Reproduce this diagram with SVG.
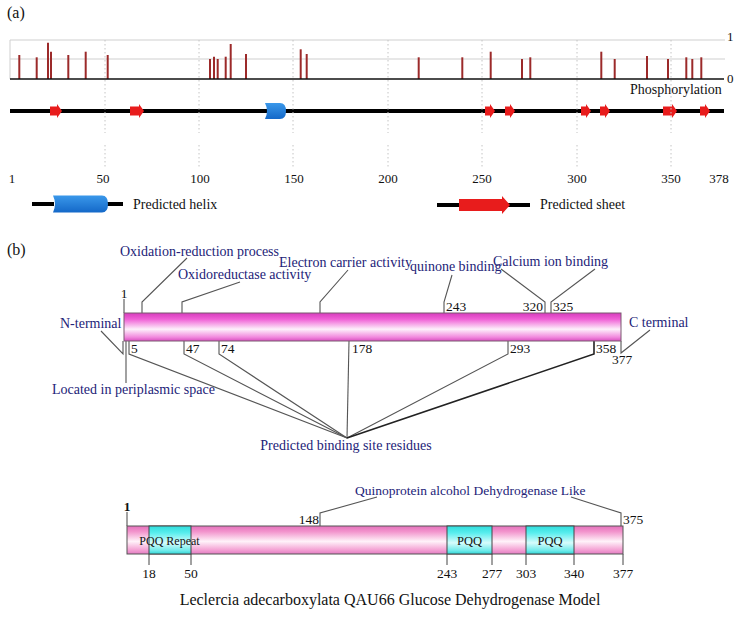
<svg xmlns="http://www.w3.org/2000/svg" width="738" height="623" viewBox="0 0 738 623">
<defs>
<linearGradient id="pink1" x1="0" y1="0" x2="0" y2="1">
<stop offset="0" stop-color="#d63cbc"/>
<stop offset="0.22" stop-color="#f060d6"/>
<stop offset="0.58" stop-color="#fdf0fb"/>
<stop offset="0.86" stop-color="#f28ade"/>
<stop offset="1" stop-color="#d850c0"/>
</linearGradient>
<linearGradient id="pink2" x1="0" y1="0" x2="0" y2="1">
<stop offset="0" stop-color="#e470bc"/>
<stop offset="0.2" stop-color="#f294cc"/>
<stop offset="0.55" stop-color="#fff2f9"/>
<stop offset="0.85" stop-color="#f4a2d4"/>
<stop offset="1" stop-color="#e27cc2"/>
</linearGradient>
<linearGradient id="cyan" x1="0" y1="0" x2="0" y2="1">
<stop offset="0" stop-color="#2edcdc"/>
<stop offset="0.25" stop-color="#5aeeee"/>
<stop offset="0.6" stop-color="#d6fcfc"/>
<stop offset="0.88" stop-color="#6eeaea"/>
<stop offset="1" stop-color="#30d4d4"/>
</linearGradient>
<linearGradient id="blue" x1="0" y1="0" x2="0" y2="1">
<stop offset="0" stop-color="#3a98ea"/>
<stop offset="1" stop-color="#1468c8"/>
</linearGradient>
</defs>
<style>
.t{font-family:"Liberation Serif","Times New Roman",serif;font-size:14px;fill:#232378}
.k{font-family:"Liberation Serif","Times New Roman",serif;font-size:14px;fill:#111}
.n{font-family:"Liberation Serif","Times New Roman",serif;font-size:13.5px;fill:#111}
.ax{font-family:"Liberation Serif","Times New Roman",serif;font-size:13px;fill:#111}
.pl{font-family:"Liberation Serif","Times New Roman",serif;font-size:16px;fill:#111}
.sm{font-family:"Liberation Serif","Times New Roman",serif;fill:#111}
.lead{stroke:#555;stroke-width:1.1;fill:none}
.tick{stroke:#444;stroke-width:1;fill:none}
.grid{stroke:#cfcfcf;stroke-width:1}
.dash{stroke:#c4c4c4;stroke-width:1;stroke-dasharray:1.5 2.5}
.ph{stroke:#9c2a2a;stroke-width:2}
.strand{fill:#e81c1c}
.helix{fill:url(#blue)}
.track{stroke:#000;stroke-width:4}
</style>

<text class="pl" x="7" y="18">(a)</text>

<g id="phospho-chart">
<line class="grid" x1="10" y1="40" x2="725" y2="40"/>
<line class="grid" x1="10" y1="59" x2="725" y2="59"/>
<line class="grid" x1="10" y1="40" x2="10" y2="79"/>
<g class="ph">
<line x1="19.3" y1="79" x2="19.3" y2="55"/>
<line x1="36.7" y1="79" x2="36.7" y2="57.3"/>
<line x1="48" y1="79" x2="48" y2="42.7"/>
<line x1="51" y1="79" x2="51" y2="51.7"/>
<line x1="68.3" y1="79" x2="68.3" y2="55"/>
<line x1="85.7" y1="79" x2="85.7" y2="51.7"/>
<line x1="107.7" y1="79" x2="107.7" y2="55"/>
<line x1="210" y1="79" x2="210" y2="59"/>
<line x1="214" y1="79" x2="214" y2="56.7"/>
<line x1="217.7" y1="79" x2="217.7" y2="59"/>
<line x1="225.7" y1="79" x2="225.7" y2="56.7"/>
<line x1="230.7" y1="79" x2="230.7" y2="44"/>
<line x1="246" y1="79" x2="246" y2="54"/>
<line x1="300.7" y1="79" x2="300.7" y2="49.3"/>
<line x1="306.7" y1="79" x2="306.7" y2="54"/>
<line x1="418.7" y1="79" x2="418.7" y2="57.3"/>
<line x1="462.3" y1="79" x2="462.3" y2="57.3"/>
<line x1="490.7" y1="79" x2="490.7" y2="51.7"/>
<line x1="522" y1="79" x2="522" y2="59"/>
<line x1="530.3" y1="79" x2="530.3" y2="57.3"/>
<line x1="601.3" y1="79" x2="601.3" y2="51.7"/>
<line x1="614.7" y1="79" x2="614.7" y2="59"/>
<line x1="647" y1="79" x2="647" y2="56"/>
<line x1="668" y1="79" x2="668" y2="59"/>
<line x1="686.3" y1="79" x2="686.3" y2="57.3"/>
<line x1="692.3" y1="79" x2="692.3" y2="59"/>
<line x1="701.3" y1="79" x2="701.3" y2="57.3"/>
</g>
<line x1="10" y1="79" x2="724" y2="79" stroke="#111" stroke-width="1.6"/>
<text class="ax" x="727" y="41">1</text>
<text class="ax" x="727" y="83">0</text>
<text class="k" x="630" y="94">Phosphorylation</text>
</g>

<g id="structure-track">
<line class="track" x1="10" y1="111" x2="724" y2="111"/>
<g class="strand">
<path d="M50,106.5 H57 V104 L62,111 L57,118 V115.5 H50 Z"/>
<path d="M130,106.5 H139 V104 L144,111 L139,118 V115.5 H130 Z"/>
<path d="M485,106.5 H490 V104 L495,111 L490,118 V115.5 H485 Z"/>
<path d="M505,106.5 H510 V104 L515,111 L510,118 V115.5 H505 Z"/>
<path d="M581,106.5 H586 V104 L591,111 L586,118 V115.5 H581 Z"/>
<path d="M600,106.5 H605 V104 L610,111 L605,118 V115.5 H600 Z"/>
<path d="M663,106.5 H672 V104 L677,111 L672,118 V115.5 H663 Z"/>
<path d="M700,106.5 H705 V104 L710,111 L705,118 V115.5 H700 Z"/>
</g>
<path class="helix" d="M265,103 H280 Q286,103 286,111 Q286,119 280,119 H265 Q269,111 265,103 Z"/>
</g>

<g id="grid-lines">
<g class="dash">
<line x1="105" y1="40" x2="105" y2="133"/><line x1="105" y1="145" x2="105" y2="168"/>
<line x1="199" y1="40" x2="199" y2="133"/><line x1="199" y1="145" x2="199" y2="168"/>
<line x1="293" y1="40" x2="293" y2="133"/><line x1="293" y1="145" x2="293" y2="168"/>
<line x1="388" y1="40" x2="388" y2="133"/><line x1="388" y1="145" x2="388" y2="168"/>
<line x1="482" y1="40" x2="482" y2="133"/><line x1="482" y1="145" x2="482" y2="168"/>
<line x1="577" y1="40" x2="577" y2="133"/><line x1="577" y1="145" x2="577" y2="168"/>
<line x1="671" y1="40" x2="671" y2="133"/><line x1="671" y1="145" x2="671" y2="168"/>
</g>
</g>

<g id="axis-labels" text-anchor="middle">
<text class="ax" x="12" y="183">1</text>
<text class="ax" x="103" y="183">50</text>
<text class="ax" x="200" y="183">100</text>
<text class="ax" x="294" y="183">150</text>
<text class="ax" x="388" y="183">200</text>
<text class="ax" x="482" y="183">250</text>
<text class="ax" x="577" y="183">300</text>
<text class="ax" x="671" y="183">350</text>
<text class="ax" x="719" y="183">378</text>
</g>

<g id="legend-helix">
<line class="track" x1="32" y1="204" x2="54" y2="204" stroke-width="3.5"/>
<line class="track" x1="106" y1="204" x2="123" y2="204" stroke-width="3.5"/>
<path class="helix" d="M53,195.5 H102 Q108,195.5 108,204 Q108,212.5 102,212.5 H53 Q57,204 53,195.5 Z"/>
<text class="k" x="133" y="209">Predicted helix</text>
</g>
<g id="legend-sheet">
<line class="track" x1="437" y1="205" x2="460" y2="205" stroke-width="3.5"/>
<line class="track" x1="508" y1="205" x2="530" y2="205" stroke-width="3.5"/>
<path class="strand" d="M459,199 H502 V196 L510,205 L502,214 V211 H459 Z"/>
<text class="k" x="540" y="209">Predicted sheet</text>
</g>

<text class="pl" x="7" y="255">(b)</text>

<g id="connectors">
<path class="lead" d="M142,313 V302 L187,258"/>
<path class="lead" d="M182,313 V302 L240,282"/>
<path class="lead" d="M320,313 V302 L348,270"/>
<path class="lead" d="M444,313 V302 L452,275"/>
<path class="lead" d="M545,313 V302 L501,269"/>
<path class="lead" d="M551,313 V302 L595,269"/>
<path class="tick" d="M124,299 V313"/>
<path class="lead" d="M101,331 L123,354 V341"/>
<path class="lead" d="M126,341 V383"/>
<path class="lead" d="M129,341 V354 L347,438"/>
<path class="lead" d="M184,341 V354 L347,438"/>
<path class="lead" d="M219,341 V354 L347,438"/>
<path class="lead" d="M349,341 L347,438"/>
<path class="lead" d="M508,341 V354 L347,438"/>
<path d="M594,341 V354 L347,438" fill="none" stroke="#222" stroke-width="1.6"/>
<path class="lead" d="M621,341 V353 L650,330"/>
<path class="tick" d="M127,512 V526"/>
<path class="lead" d="M320,526 V513 L377,497"/>
<path class="lead" d="M621,526 V513 L571,497"/>
<g class="tick">
<line x1="149" y1="554" x2="149" y2="565"/>
<line x1="191" y1="554" x2="191" y2="565"/>
<line x1="447" y1="554" x2="447" y2="565"/>
<line x1="492" y1="554" x2="492" y2="565"/>
<line x1="526" y1="554" x2="526" y2="565"/>
<line x1="574" y1="554" x2="574" y2="565"/>
<line x1="623" y1="554" x2="623" y2="565"/>
</g>
</g>

<g id="protein-bar">
<rect x="124" y="313" width="497" height="28" fill="url(#pink1)" stroke="#7a5a70" stroke-width="1"/>
<text class="n" x="124" y="298" text-anchor="middle">1</text>
<text class="n" x="446" y="311">243</text>
<text class="n" x="543" y="311" text-anchor="end">320</text>
<text class="n" x="553" y="311">325</text>
<text class="n" x="131" y="353">5</text>
<text class="n" x="186" y="353">47</text>
<text class="n" x="221" y="353">74</text>
<text class="n" x="352" y="353">178</text>
<text class="n" x="510" y="353">293</text>
<text class="n" x="596" y="353">358</text>
<text class="n" x="612" y="364">377</text>
</g>

<g id="label-oxred"><text class="t" x="120" y="256">Oxidation-reduction process</text></g>
<g id="label-oxidoreductase"><text class="t" x="178" y="279">Oxidoreductase activity</text></g>
<g id="label-electron"><text class="t" x="279" y="267">Electron carrier activity</text></g>
<g id="label-quinone"><text class="t" x="410" y="271">quinone binding</text></g>
<g id="label-calcium"><text class="t" x="493" y="266">Calcium ion binding</text></g>
<g id="label-nterm"><text class="t" x="60" y="328">N-terminal</text></g>
<g id="label-cterm"><text class="t" x="629" y="327">C terminal</text></g>
<g id="label-periplasm"><text class="t" x="52" y="394">Located in periplasmic space</text></g>
<g id="label-binding"><text class="t" x="346" y="450" text-anchor="middle">Predicted binding site residues</text></g>

<g id="domain-bar">
<rect x="127" y="526" width="496" height="28" fill="url(#pink2)" stroke="#555" stroke-width="1"/>
<rect x="149" y="526" width="42" height="28" fill="url(#cyan)" stroke="#444" stroke-width="1"/>
<rect x="447" y="526" width="45" height="28" fill="url(#cyan)" stroke="#444" stroke-width="1"/>
<rect x="526" y="526" width="48" height="28" fill="url(#cyan)" stroke="#444" stroke-width="1"/>
<text class="sm" x="169.5" y="545" text-anchor="middle" font-size="12">PQQ Repeat</text>
<text class="sm" x="469.5" y="545" text-anchor="middle" font-size="12.5">PQQ</text>
<text class="sm" x="550" y="545" text-anchor="middle" font-size="12.5">PQQ</text>
<text class="n" x="127" y="511" text-anchor="middle" font-weight="bold">1</text>
<text class="n" x="319" y="524" text-anchor="end">148</text>
<text class="n" x="623" y="524">375</text>
<g text-anchor="middle">
<text class="n" x="149" y="578">18</text>
<text class="n" x="191" y="578">50</text>
<text class="n" x="447" y="578">243</text>
<text class="n" x="492" y="578">277</text>
<text class="n" x="526" y="578">303</text>
<text class="n" x="574" y="578">340</text>
<text class="n" x="623" y="578">377</text>
</g>
</g>
<g id="label-quinoprotein"><text class="t" x="355" y="495" style="font-size:13.5px">Quinoprotein alcohol Dehydrogenase Like</text></g>

<text class="sm" x="390" y="605" text-anchor="middle" font-size="16">Leclercia adecarboxylata QAU66 Glucose Dehydrogenase Model</text>
</svg>
